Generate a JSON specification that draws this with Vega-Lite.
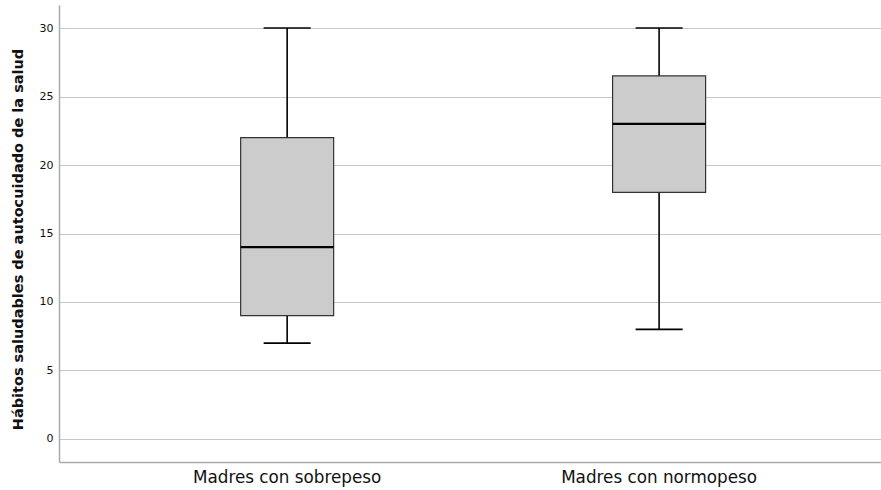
{
  "$schema": "https://vega.github.io/schema/vega-lite/v6.json",
  "autosize": {"type": "none"},
  "padding": {"left": 59, "top": 5, "right": 0, "bottom": 28},
  "width": 822,
  "height": 457,
  "background": "white",
  "config": {
    "view": {"stroke": null},
    "font": "DejaVu Sans"
  },
  "data": {
    "values": [
      {"grupo": "Madres con sobrepeso", "min": 7, "q1": 9, "mediana": 14, "q3": 22, "max": 30},
      {"grupo": "Madres con normopeso", "min": 8, "q1": 18, "mediana": 23, "q3": 26.5, "max": 30}
    ]
  },
  "encoding": {
    "x": {
      "field": "grupo",
      "type": "nominal",
      "sort": ["Madres con sobrepeso", "Madres con normopeso"],
      "scale": {"type": "band", "paddingInner": 0, "paddingOuter": 0.105, "align": 0.54},
      "axis": {
        "title": null,
        "labelAngle": 0,
        "ticks": false,
        "labelPadding": 7,
        "labelFontSize": 16.8,
        "labelLimit": 0,
        "labelColor": "#111111",
        "domainColor": "#aaaaaa",
        "domainWidth": 1.5,
        "grid": false
      }
    }
  },
  "layer": [
    {
      "mark": {"type": "rule", "color": "black", "strokeWidth": 1.6},
      "encoding": {
        "y": {
          "field": "min",
          "type": "quantitative",
          "scale": {"domain": [-1.68, 31.68], "nice": false, "zero": false},
          "axis": {
            "title": "Hábitos saludables de autocuidado de la salud",
            "titleFontSize": 14.5,
            "titleFontWeight": "bold",
            "titleColor": "#111111",
            "titlePadding": 14,
            "titleY": 234,
            "values": [0, 5, 10, 15, 20, 25, 30],
            "ticks": false,
            "labelPadding": 6,
            "labelFontSize": 11,
            "labelColor": "#111111",
            "domainColor": "#aaaaaa",
            "domainWidth": 1.5,
            "grid": true,
            "gridColor": "#c8c8c8",
            "gridWidth": 1.2
          }
        },
        "y2": {"field": "max"}
      }
    },
    {
      "mark": {"type": "bar", "fill": "#cccccc", "stroke": "#333333", "strokeWidth": 1.2, "size": 93},
      "encoding": {
        "y": {"field": "q1", "type": "quantitative"},
        "y2": {"field": "q3"}
      }
    },
    {
      "mark": {"type": "tick", "color": "black", "thickness": 2.2, "size": 93, "opacity": 1},
      "encoding": {
        "y": {"field": "mediana", "type": "quantitative"}
      }
    },
    {
      "mark": {"type": "tick", "color": "black", "thickness": 1.6, "size": 47, "opacity": 1},
      "encoding": {
        "y": {"field": "min", "type": "quantitative"}
      }
    },
    {
      "mark": {"type": "tick", "color": "black", "thickness": 1.6, "size": 47, "opacity": 1},
      "encoding": {
        "y": {"field": "max", "type": "quantitative"}
      }
    }
  ]
}
